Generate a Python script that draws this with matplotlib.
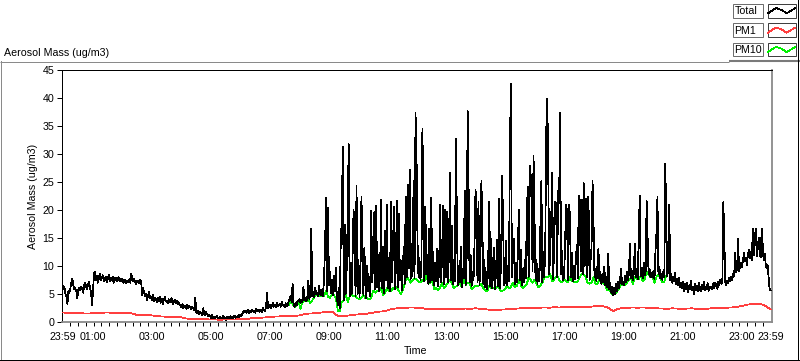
import numpy as np
import matplotlib
matplotlib.use("Agg")
import matplotlib.pyplot as plt
from matplotlib.patches import Rectangle

# ---------------- data ----------------
# Total aerosol mass, one value every 2 minutes from 23:59 (t=0) to 23:59 (t=1440)
total_step = 2
total_values = [
    6.5, 5.8, 6.2, 5.0, 4.5, 3.2, 5.5, 5.2, 6.0, 7.0, 7.7, 6.5, 5.8, 6.0, 5.5, 4.2, 5.6, 6.1, 5.7, 6.3, 5.9, 5.2, 6.5, 7.0, 6.2, 5.8, 6.8, 7.1, 6.0, 5.4,
    3.0, 5.5, 8.5, 9.0, 7.5, 8.2, 7.0, 7.8, 8.6, 7.4, 7.9, 8.3, 7.2, 7.7, 8.0, 7.1, 7.6, 8.4, 7.3, 7.8, 7.5, 8.1, 7.0, 7.6, 7.9, 7.2, 7.4, 8.0, 7.3, 7.7,
    7.2, 7.6, 7.0, 7.5, 7.3, 6.9, 7.4, 7.1, 7.6, 7.0, 8.6, 7.5, 7.2, 7.7, 7.0, 6.8, 7.4, 7.1, 6.9, 7.5, 7.2, 4.7, 6.0, 5.2, 4.5, 5.0, 3.8, 4.6, 5.3, 4.2,
    4.4, 3.9, 4.8, 3.6, 4.2, 4.0, 3.5, 4.3, 3.7, 4.5, 3.4, 4.1, 3.2, 3.9, 4.4, 3.6, 3.8, 3.3, 4.0, 3.5, 3.7, 4.2, 3.1, 3.6, 3.9, 3.4, 3.8, 3.2, 3.5, 3.0,
    3.0, 2.6, 3.2, 2.4, 2.9, 2.7, 2.3, 3.0, 2.5, 2.8, 2.6, 2.2, 2.7, 2.4, 2.0, 4.3, 1.8, 1.5, 2.0, 1.3, 1.8, 1.6, 1.2, 2.4, 1.5, 1.1, 1.7, 1.4, 1.0, 1.3,
    1.0, 0.7, 1.2, 0.6, 0.9, 0.5, 0.8, 1.1, 0.6, 0.4, 0.9, 0.7, 0.5, 1.0, 0.6, 0.8, 0.3, 0.7, 0.9, 0.5, 0.6, 1.0, 0.4, 0.8, 0.7, 1.1, 0.6, 0.9, 0.8, 1.2,
    0.9, 1.3, 1.0, 1.5, 1.9, 1.7, 2.0, 1.6, 1.8, 2.1, 1.5, 1.9, 1.7, 2.2, 1.8, 2.0, 1.6, 2.3, 1.9, 2.1, 1.8, 2.2, 2.0, 1.7, 2.4, 2.1, 1.9, 2.6, 5.2, 2.5,
    2.6, 3.0, 2.4, 2.9, 3.3, 2.7, 3.1, 2.6, 3.4, 2.8, 3.0, 3.2, 2.7, 3.5, 2.9, 3.1, 2.6, 3.3, 2.8, 3.0, 3.6, 4.0, 4.7, 3.5, 6.8, 3.2, 2.6, 3.4, 2.9, 3.7,
    3.6, 4.0, 3.3, 3.9, 3.5, 6.2, 3.8, 4.2, 3.6, 4.5, 7.4, 4.1, 4.8, 16.7, 4.6, 5.3, 4.4, 6.0, 4.9, 5.2, 4.5, 6.5, 5.0, 4.7, 5.8, 4.6, 8.0, 13.4, 22.2, 5.5,
    20.4, 6.5, 9.0, 5.2, 7.5, 4.8, 8.2, 5.5, 9.6, 4.2, 3.0, 6.0, 2.5, 15.2, 17.7, 31.3, 3.8, 17.4, 5.0, 9.5, 18.1, 31.8, 4.5, 10.5, 5.0, 12.0, 20.0, 16.0, 4.6, 24.3,
    5.0, 11.0, 4.4, 8.5, 22.4, 14.0, 4.8, 13.2, 6.5, 4.2, 10.0, 5.5, 8.0, 4.6, 19.8, 7.0, 11.5, 19.6, 5.8, 20.7, 6.2, 12.0, 5.5, 9.0, 21.8, 6.0, 13.5, 5.2, 16.3, 7.5,
    20.9, 6.0, 11.0, 5.5, 21.4, 7.0, 12.5, 20.6, 5.8, 9.5, 21.6, 6.2, 19.3, 7.5, 11.0, 5.6, 8.8, 13.4, 6.8, 22.4, 8.0, 24.5, 9.5, 27.2, 7.6, 14.0, 8.2, 25.2, 7.8, 37.4,
    30.0, 14.6, 8.0, 11.5, 7.5, 9.8, 34.6, 21.2, 7.2, 20.6, 8.5, 12.0, 6.8, 16.7, 7.0, 22.2, 7.5, 12.6, 6.5, 10.5, 7.2, 13.0, 6.3, 9.8, 20.9, 7.0, 12.0, 20.7, 6.8, 20.1,
    8.0, 19.6, 7.0, 12.5, 26.6, 7.5, 17.2, 6.8, 11.0, 7.2, 32.7, 19.4, 6.5, 10.0, 7.0, 13.5, 6.2, 9.5, 7.8, 23.4, 6.6, 11.5, 37.7, 23.6, 7.0, 12.0, 6.4, 9.0, 7.5, 14.0,
    23.7, 19.7, 7.0, 21.5, 6.5, 10.5, 25.2, 16.5, 6.8, 11.0, 6.2, 9.0, 5.8, 12.0, 21.5, 6.4, 14.8, 6.0, 9.5, 13.3, 5.9, 10.0, 14.7, 6.3, 22.0, 6.0, 11.0, 26.1, 18.8, 6.5,
    7.0, 14.4, 6.5, 10.0, 7.2, 31.3, 42.6, 8.0, 11.5, 14.8, 6.8, 10.5, 7.0, 12.0, 20.1, 7.5, 12.9, 6.6, 9.5, 7.0, 11.0, 7.8, 16.7, 24.2, 8.0, 28.0, 26.5, 21.6, 9.0, 29.7,
    19.0, 7.5, 11.0, 6.8, 9.5, 7.2, 17.3, 25.2, 7.0, 12.5, 8.0, 15.0, 34.7, 39.9, 26.4, 8.5, 13.0, 18.4, 26.6, 7.6, 14.0, 21.5, 21.3, 8.0, 23.4, 21.2, 37.4, 8.5, 12.7, 7.5,
    8.0, 13.0, 20.9, 20.0, 7.5, 20.9, 19.2, 8.0, 12.3, 7.2, 10.0, 7.6, 11.0, 13.7, 7.8, 22.6, 21.8, 9.0, 21.8, 8.5, 24.8, 10.0, 22.1, 8.0, 22.4, 20.3, 7.5, 11.0, 13.4, 25.2,
    18.0, 8.0, 9.5, 7.2, 10.0, 13.0, 7.5, 9.0, 6.8, 8.5, 7.0, 9.8, 6.5, 8.0, 6.2, 12.1, 5.8, 7.0, 5.2, 6.3, 4.8, 6.0, 5.0, 6.8, 5.4, 7.2, 6.0, 7.5, 9.4, 6.8,
    7.0, 6.5, 8.2, 7.0, 9.0, 7.5, 8.5, 14.0, 7.8, 9.2, 7.4, 8.8, 14.0, 8.0, 9.5, 7.6, 15.7, 22.5, 8.2, 9.7, 7.8, 10.5, 8.3, 9.0, 21.6, 15.1, 8.5, 9.5, 7.9, 8.8,
    8.0, 9.2, 7.6, 12.7, 15.8, 22.3, 8.5, 9.8, 7.8, 8.6, 7.5, 9.0, 8.0, 28.3, 17.5, 8.2, 9.5, 20.9, 7.4, 8.5, 7.0, 8.0, 7.3, 8.8, 6.8, 7.6, 6.5, 7.8, 6.2, 7.0,
    6.0, 7.2, 5.5, 6.8, 5.8, 7.0, 5.3, 6.4, 5.9, 7.3, 5.6, 6.2, 5.0, 6.8, 5.7, 6.5, 5.4, 7.0, 6.0, 5.5, 6.6, 5.8, 7.1, 5.6, 6.3, 5.9, 6.9, 5.5, 6.2, 6.0,
    6.3, 5.8, 6.9, 6.1, 7.0, 6.4, 5.9, 7.2, 6.6, 7.5, 6.8, 7.1, 21.4, 14.9, 7.0, 6.6, 7.4, 6.9, 7.8, 7.2, 8.0, 7.5, 8.6, 8.1, 12.3, 8.8, 9.4, 14.9, 9.0, 10.0,
    10.5, 9.8, 11.0, 12.3, 10.8, 11.5, 10.2, 12.0, 12.8, 11.3, 12.5, 11.0, 16.7, 12.0, 14.9, 16.7, 11.8, 13.0, 15.1, 12.2, 11.5, 16.7, 13.9, 11.0, 12.2, 10.5, 9.6, 10.2, 8.0, 6.0, 5.6,
]

# PM10, every 4 minutes from t=460 to t=1228 (elsewhere hidden under Total)
pm10_start = 460
pm10_step = 4
pm10_values = [
    3.0, 3.5, 3.2, 2.6, 2.9, 3.6, 2.3, 3.5, 3.8, 3.6,
    4.1, 3.3, 3.8, 4.4, 4.9, 4.5, 4.7, 4.6, 4.6, 5.5,
    4.5, 4.3, 4.8, 4.8, 4.2, 2.0, 1.8, 3.5, 3.8, 5.0,
    3.5, 4.5, 5.0, 4.5, 4.6, 4.2, 4.0, 4.3, 4.8, 4.2,
    4.2, 4.0, 4.2, 5.6, 5.2, 5.5, 5.5, 6.0, 4.8, 5.2,
    6.0, 5.5, 5.5, 6.0, 5.8, 6.2, 5.5, 5.0, 5.6, 6.8,
    8.0, 7.6, 7.0, 7.4, 7.8, 7.5, 7.2, 7.0, 7.5, 7.2,
    8.5, 6.8, 7.0, 7.5, 5.8, 6.0, 5.6, 6.2, 7.0, 6.0,
    6.5, 7.0, 7.5, 6.8, 6.0, 6.3, 6.5, 7.0, 6.2, 7.8,
    6.6, 7.0, 7.0, 5.8, 6.2, 6.5, 6.4, 6.5, 6.8, 6.0,
    5.6, 5.4, 6.4, 6.0, 6.0, 5.9, 6.3, 6.0, 5.5, 5.6,
    5.8, 6.5, 6.0, 6.2, 7.0, 6.2, 6.4, 7.5, 6.6, 6.0,
    6.3, 6.6, 8.0, 7.5, 7.0, 7.5, 6.8, 6.2, 6.5, 7.0,
    8.0, 8.0, 8.0, 8.5, 7.2, 7.6, 8.0, 8.0, 7.2, 7.0,
    7.5, 7.3, 7.0, 8.0, 7.2, 7.2, 7.0, 7.2, 8.0, 8.5,
    8.5, 8.0, 7.0, 6.8, 7.0, 8.0, 6.8, 6.8, 7.5, 6.8,
    7.0, 6.5, 5.6, 5.8, 5.2, 4.8, 5.0, 5.4, 6.0, 6.8,
    6.5, 6.5, 7.0, 7.5, 7.8, 6.8, 8.0, 7.6, 7.6, 8.2,
    7.2, 7.5, 9.0, 8.5, 7.9, 8.0, 7.0, 8.0, 8.5, 7.8,
    7.0, 7.2, 8.2,
]

# PM1, every 10 minutes from t=0 to t=1440
pm1_step = 10
pm1_values = [
    1.65, 1.6, 1.6, 1.5, 1.5, 1.45, 1.5, 1.6, 1.6, 1.65,
    1.6, 1.6, 1.55, 1.6, 1.5, 1.25, 1.2, 1.2, 1.15, 1.05,
    0.95, 0.9, 0.9, 0.85, 0.8, 0.6, 0.5, 0.5, 0.5, 0.45,
    0.4, 0.4, 0.35, 0.4, 0.4, 0.4, 0.45, 0.45, 0.55, 0.7,
    0.7, 0.75, 0.85, 0.9, 0.95, 1.0, 1.05, 1.05, 1.1, 1.3,
    1.45, 1.5, 1.55, 1.7, 1.75, 1.7, 1.0, 0.95, 1.1, 1.2,
    1.3, 1.4, 1.45, 1.6, 1.75, 1.85, 2.0, 2.3, 2.4, 2.5,
    2.5, 2.55, 2.5, 2.45, 2.3, 2.25, 2.2, 2.25, 2.2, 2.3,
    2.25, 2.3, 2.35, 2.3, 2.4, 2.3, 2.25, 2.1, 2.1, 2.15,
    2.2, 2.25, 2.3, 2.4, 2.45, 2.5, 2.45, 2.5, 2.55, 2.5,
    2.6, 2.55, 2.6, 2.6, 2.65, 2.6, 2.6, 2.65, 2.75, 2.8,
    2.75, 2.5, 1.9, 2.3, 2.45, 2.5, 2.55, 2.5, 2.55, 2.5,
    2.45, 2.4, 2.35, 2.3, 2.4, 2.35, 2.3, 2.35, 2.4, 2.3,
    2.25, 2.3, 2.4, 2.45, 2.5, 2.5, 2.55, 2.6, 2.8, 3.0,
    3.15, 3.2, 3.2, 2.8, 2.2,
]

xtick_labels = ["23:59", "01:00", "03:00", "05:00", "07:00", "09:00", "11:00", "13:00",
                "15:00", "17:00", "19:00", "21:00", "23:00", "23:59"]
xtick_minutes = [0, 61, 181, 301, 421, 541, 661, 781, 901, 1021, 1141, 1261, 1381, 1440]
ytick_values = [0, 5, 10, 15, 20, 25, 30, 35, 40, 45]

series_names = ["Total", "PM1", "PM10"]
series_colors = ["#000000", "#FF3F3F", "#00F000"]

# ---------------- figure ----------------
plt.rcParams['font.family'] = ['Liberation Sans', 'DejaVu Sans']
FS = 7.7
LW = 0.72   # frame lines, one pixel
DLW = 0.55  # data lines (aliased -> one pixel)
W, H = 800, 361
fig = plt.figure(figsize=(W / 100, H / 100), dpi=100)
fig.patch.set_facecolor('white')

def fx(px):
    return px / W

def fy(py):
    return 1 - py / H

# background / frame layer in pixel coordinates
bg = fig.add_axes([0, 0, 1, 1], zorder=0)
bg.set_xlim(0, W)
bg.set_ylim(H, 0)
bg.axis('off')
bg.plot([0, 729], [61.5, 61.5], color='#8a8a8a', lw=LW, solid_capstyle='butt')
bg.plot([729, 800], [61, 61], color='#7a7a7a', lw=1.5, solid_capstyle='butt')
bg.plot([0.5, 0.5], [61, 361], color='#8a8a8a', lw=LW)
bg.plot([0, 800], [359.5, 359.5], color='#000000', lw=LW)
bg.plot([797.5, 797.5], [0, 361], color='#000000', lw=LW)

# legend (LabVIEW style plot legend)
sample_shape_x = [1, 9, 14.7, 19.7, 26.3, 28]
sample_shape_y = [9.3, 4.0, 6.0, 9.3, 5.3, 4.3]
for k, (name, col) in enumerate(zip(series_names, series_colors)):
    y0 = 4 + k * 19.4
    bg.add_patch(Rectangle((732.5, y0), 30.5, 13.5, fc='white', ec='#6e6e6e', lw=LW))
    bg.text(734.5, y0 + 7.2, name, ha='left', va='center', fontsize=FS, color='black')
    bg.add_patch(Rectangle((767.5, y0), 28.5, 13.5, fc='white', ec='#404040', lw=LW))
    bg.plot([767 + sx for sx in sample_shape_x], [y0 + sy for sy in sample_shape_y],
            color=col, lw=DLW, antialiased=False)

# main plot area
ax_left, ax_right, ax_top, ax_bottom = 62, 772, 70.5, 321.7
ax = fig.add_axes([fx(ax_left), fy(ax_bottom), (ax_right - ax_left) / W, (ax_bottom - ax_top) / H], zorder=2)
ax.set_facecolor('white')

total_t = np.arange(len(total_values)) * total_step
pm10_t = pm10_start + np.arange(len(pm10_values)) * pm10_step
pm1_t = np.arange(len(pm1_values)) * pm1_step

ax.plot(pm10_t, pm10_values, color=series_colors[2], lw=DLW, antialiased=False, zorder=2)
ax.plot(total_t, total_values, color=series_colors[0], lw=DLW, antialiased=False, zorder=3)
ax.plot(pm1_t, pm1_values, color=series_colors[1], lw=DLW, antialiased=False, zorder=4)

ax.set_xlim(-1, 1443)
ax.set_ylim(0, 45)

for side, col, lw in [('left', '#000000', LW), ('top', '#000000', LW),
                      ('right', '#8a8a8a', 1.3), ('bottom', '#8a8a8a', 1.3)]:
    ax.spines[side].set_color(col)
    ax.spines[side].set_linewidth(lw)

ax.set_yticks(ytick_values)
ax.set_yticklabels([str(v) for v in ytick_values])
ax.tick_params(axis='y', direction='out', length=3.3, width=LW, pad=2.2,
               labelsize=FS, colors='black')
ax.set_xticks(xtick_minutes)
ax.set_xticklabels(xtick_labels)
ax.tick_params(axis='x', which='major', length=0, pad=7.4, labelsize=FS, colors='black')
ax.set_xticks(np.linspace(0, 1440, 92), minor=True)
ax.tick_params(axis='x', which='minor', direction='out', length=2.6, width=LW, colors='black')

fig.text(fx(3.5), fy(53), "Aerosol Mass (ug/m3)", ha='left', va='center', fontsize=FS)
fig.text(fx(33), fy(196), "Aerosol Mass (ug/m3)", ha='center', va='center', rotation=90, fontsize=FS)
fig.text(fx(416), fy(351), "Time", ha='center', va='center', fontsize=FS)

assert len(total_values) == 721
assert len(pm1_values) == 145

fig.savefig("out.png", dpi=100, facecolor='white')
